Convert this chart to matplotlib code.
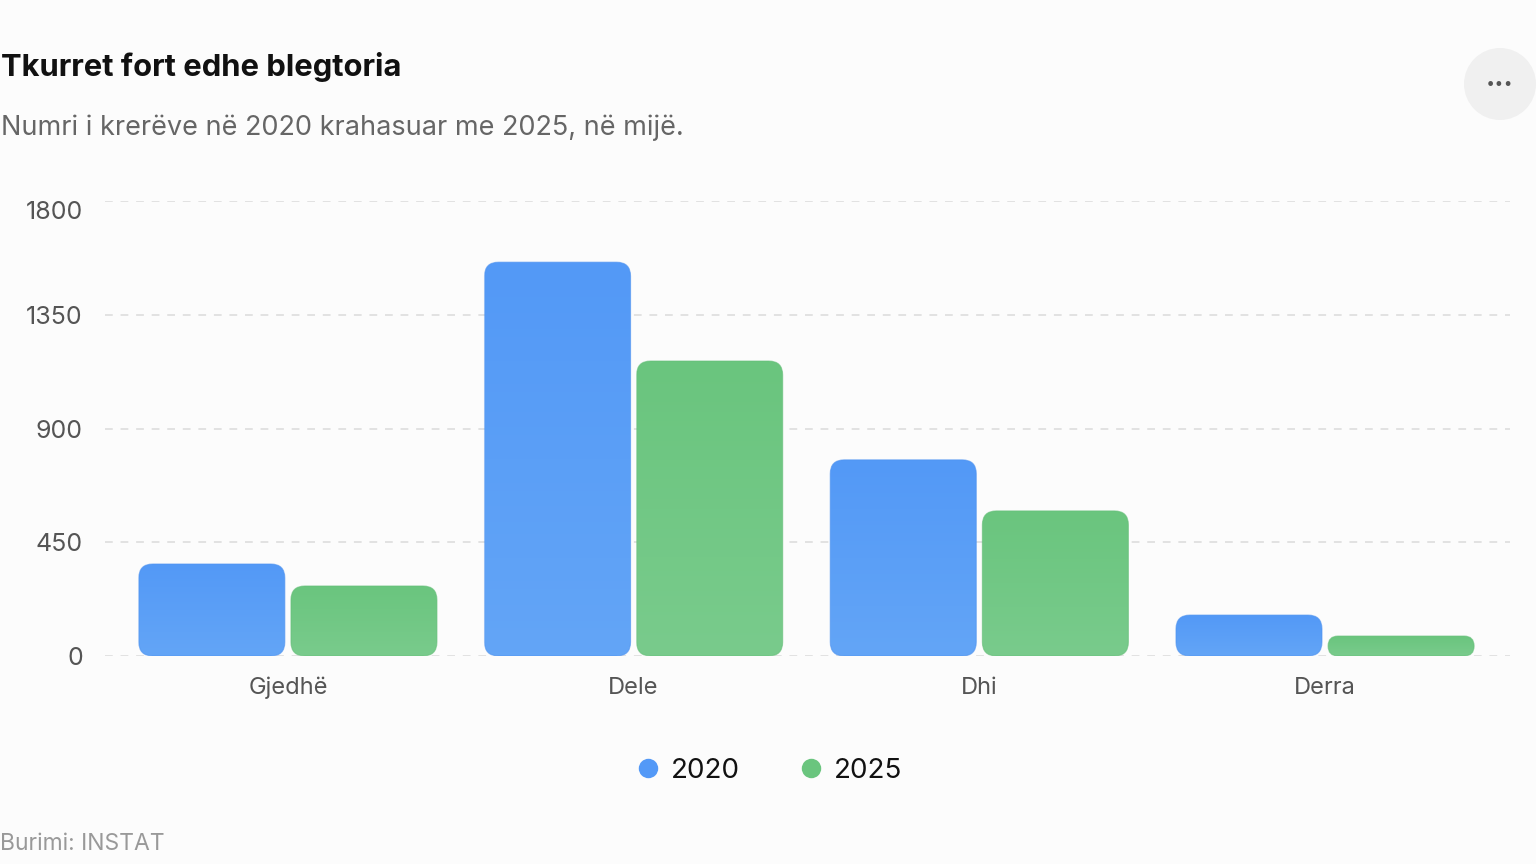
import matplotlib
matplotlib.use("Agg")
import matplotlib.pyplot as plt
import numpy as np
import matplotlib.transforms as mtransforms
from matplotlib.patches import FancyBboxPatch, Ellipse
from matplotlib.lines import Line2D
from matplotlib.colors import LinearSegmentedColormap

plt.rcParams['font.family'] = ['Inter', 'DejaVu Sans']

# data (thousand heads)
categories = ["Gjedhë", "Dele", "Dhi", "Derra"]
years = ["2020", "2025"]
vals_2020 = [364, 1558, 776, 162]
vals_2025 = [277, 1167, 574, 79]
yticks = [0, 450, 900, 1350, 1800]

BG = "#fcfcfc"
colors = {"2020": ("#5399f7", "#63a5f6"), "2025": ("#6ac57e", "#79cb8c")}
edge = {"2020": "#4d92f0", "2025": "#63be77"}

fig = plt.figure(figsize=(15.36, 8.64), dpi=100, facecolor=BG)
W, H = 1536, 864
ax = fig.add_axes([105 / W, (H - 656) / H, 1405 / W, 455 / H])
ax.set_facecolor(BG)
ax.set_xlim(-0.529, 3.535)
ax.set_ylim(0, 1800)
for s in ax.spines.values():
    s.set_visible(False)

ax.set_yticks(yticks)
ax.set_yticklabels([str(t) for t in yticks])
ax.set_xticks(range(len(categories)))
ax.set_xticklabels(categories)
ax.tick_params(axis='both', length=0, labelcolor="#555555")
ax.tick_params(axis='y', pad=16, labelsize=18)
ax.tick_params(axis='x', pad=15, labelsize=17)
# top label sits a little under its gridline
top_lab = ax.get_yticklabels()[-1]
top_lab.set_transform(top_lab.get_transform() +
                      mtransforms.ScaledTranslation(0, -9 / 100, fig.dpi_scale_trans))
for t in yticks:
    ax.axhline(t, color="#e2e2e2", lw=1.4, dashes=(4, 4), zorder=0)

fig.canvas.draw()
# px per data unit, to keep the corners circular
p0 = ax.transData.transform((0, 0))
p1 = ax.transData.transform((1, 1))
px_x = p1[0] - p0[0]
px_y = p1[1] - p0[1]
aspect = px_x / px_y

bar_w = 0.4224
offsets = [-0.22, 0.22]


def rounded_bar(xc, h, year):
    x0 = xc - bar_w / 2
    r_px = min(14, h * px_y / 2, bar_w * px_x / 2)
    style = "round,pad=0,rounding_size=%f" % (r_px / px_x)
    patch = FancyBboxPatch((x0, 0), bar_w, h, boxstyle=style,
                           mutation_aspect=aspect, facecolor="none",
                           edgecolor="none", zorder=2)
    ax.add_patch(patch)
    top, bot = colors[year]
    cmap = LinearSegmentedColormap.from_list("g" + year, [bot, top])
    grad = np.linspace(0, 1, 100).reshape(-1, 1)
    im = ax.imshow(grad, extent=(x0, x0 + bar_w, 0, h), origin='lower',
                   cmap=cmap, aspect='auto', zorder=2)
    im.set_clip_path(patch)
    outline = FancyBboxPatch((x0, 0), bar_w, h, boxstyle=style,
                             mutation_aspect=aspect, facecolor="none",
                             edgecolor=edge[year], lw=0.8, alpha=0.6, zorder=3)
    ax.add_patch(outline)


for i, cat in enumerate(categories):
    rounded_bar(i + offsets[0], vals_2020[i], "2020")
    rounded_bar(i + offsets[1], vals_2025[i], "2025")

ax.set_xlim(-0.529, 3.535)
ax.set_ylim(0, 1800)

fig.text(1 / W, 1 - 67 / H, "Tkurret fort edhe blegtoria", fontsize=22.3,
         fontweight='bold', color="#111111", va='center', ha='left')
fig.text(1 / W, 1 - 128 / H, "Numri i krerëve në 2020 krahasuar me 2025, në mijë.",
         fontsize=19.5, color="#666666", va='center', ha='left')
fig.text(0, 1 - 844 / H, "Burimi: INSTAT", fontsize=16.5, color="#999999",
         va='center', ha='left')

# menu button
btn = Ellipse((1500 / W, 1 - 84 / H), 72 / W, 72 / H, transform=fig.transFigure,
              facecolor="#f0f0f0", edgecolor="none")
fig.patches.append(btn)
fig.text(1500 / W, 1 - 86 / H, "···", fontsize=20, fontweight='bold',
         color="#555555", ha='center', va='center')

handles = [Line2D([], [], marker='o', ls='none', markersize=14,
                  markerfacecolor=colors[y][0], markeredgecolor='none') for y in years]
fig.legend(handles, years, loc='center', bbox_to_anchor=(0.5, 1 - 771 / H),
           ncol=2, frameon=False, fontsize=20, handlelength=1.0,
           handletextpad=0.33, columnspacing=2.05, labelcolor="#111111")

fig.savefig("out.png", dpi=100, facecolor=BG)
